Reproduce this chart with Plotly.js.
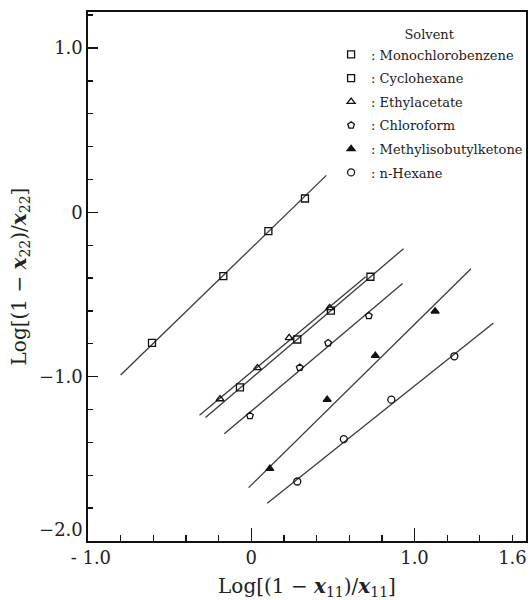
<!DOCTYPE html>
<html>
<head>
<meta charset="utf-8">
<script src="https://cdn.plot.ly/plotly-3.0.1.min.js"></script>
<style>
html,body{margin:0;padding:0;background:#fff;}
#chart{width:531px;height:600px;}
</style>
</head>
<body>
<div id="chart"></div>
<script>
// ---- data ----
const solvents = ["Monochlorobenzene", "Cyclohexane", "Ethylacetate", "Chloroform", "Methylisobutylketone", "n-Hexane"];

const monoX = [-0.608, -0.171, 0.105, 0.329];
const monoY = [-0.795, -0.388, -0.114, 0.084];
const monoLineX = [-0.80, 0.46];
const monoLineY = [-0.99, 0.225];

const cycloX = [-0.069, 0.282, 0.488, 0.730];
const cycloY = [-1.065, -0.774, -0.598, -0.392];
const cycloLineX = [-0.28, 0.933];
const cycloLineY = [-1.248, -0.221];

const ethylX = [-0.191, 0.038, 0.232, 0.480];
const ethylY = [-1.136, -0.947, -0.764, -0.581];
const ethylLineX = [-0.317, 0.701];
const ethylLineY = [-1.235, -0.392];

const chloroX = [-0.008, 0.297, 0.471, 0.720];
const chloroY = [-1.238, -0.945, -0.795, -0.630];
const chloroLineX = [-0.165, 0.927];
const chloroLineY = [-1.348, -0.433];

const mibkX = [0.114, 0.465, 0.760, 1.126];
const mibkY = [-1.560, -1.140, -0.872, -0.602];
const mibkLineX = [-0.016, 1.346];
const mibkLineY = [-1.675, -0.343];

const hexX = [0.282, 0.567, 0.858, 1.244];
const hexY = [-1.638, -1.380, -1.140, -0.876];
const hexLineX = [0.098, 1.482];
const hexLineY = [-1.770, -0.675];

const xTickVals = [-1.0, 0, 1.0, 1.6];
const xTickText = ["\u00a0- 1.0", "0", "1.0", "1.6"];
const xLongTickVals = [0, 1.0];
const yTickVals = [1.0, 0, -1.0, -2.0];
const yTickText = ["1.0", "0", "\u22121.0", "\u22122.0<br>\u00a0"];

// ---- styling ----
const serif = "DejaVu Serif, Liberation Serif, serif";
const lineColor = "#3a3a3a";
const markColor = "#111";
const symbols = ["square-open", "square-open", "triangle-up-open", "pentagon-open", "triangle-up", "circle-open"];

const series = [
  [monoX, monoY, monoLineX, monoLineY],
  [cycloX, cycloY, cycloLineX, cycloLineY],
  [ethylX, ethylY, ethylLineX, ethylLineY],
  [chloroX, chloroY, chloroLineX, chloroLineY],
  [mibkX, mibkY, mibkLineX, mibkLineY],
  [hexX, hexY, hexLineX, hexLineY]
];

const traces = [];
series.forEach((s, i) => {
  traces.push({
    x: s[2], y: s[3], mode: "lines", type: "scatter",
    line: {color: lineColor, width: 1.3},
    showlegend: false, hoverinfo: "skip"
  });
});
series.forEach((s, i) => {
  traces.push({
    x: s[0], y: s[1], mode: "markers", type: "scatter",
    name: ": " + solvents[i], legendgroup: "g" + i,
    marker: {symbol: symbols[i], size: 7, color: markColor, line: {color: markColor, width: 1.3}}
  });
});
// overlay axis carrying the long major ticks
traces.push({x: [], y: [], xaxis: "x2", mode: "markers", showlegend: false, hoverinfo: "skip"});

const axisLine = {showline: true, linecolor: "#111", linewidth: 1.6, mirror: true, showgrid: false, zeroline: false};

const layout = {
  width: 531, height: 600,
  margin: {l: 88, r: 3, t: 12, b: 59},
  paper_bgcolor: "#fff", plot_bgcolor: "#fff",
  showlegend: true,
  legend: {
    x: 0.555, xanchor: "left", y: 0.980, yanchor: "top",
    bgcolor: "rgba(0,0,0,0)", borderwidth: 0,
    traceorder: "grouped", tracegroupgap: 3.7,
    font: {family: serif, size: 13, color: "#222"},
    title: {text: "Solvent", side: "top center", font: {family: serif, size: 13, color: "#222"}}
  },
  xaxis: Object.assign({}, axisLine, {
    range: [-1.0, 1.683],
    tickmode: "array", tickvals: xTickVals, ticktext: xTickText,
    ticklabeloverflow: "allow",
    ticks: "inside", ticklen: 6, tickwidth: 1.3, tickcolor: "#111",
    minor: {dtick: 0.2, tick0: 0, ticks: "inside", ticklen: 6, tickwidth: 1.3, tickcolor: "#111"},
    tickfont: {family: serif, size: 18, color: "#222"},
    title: {text: "Log[(1 \u2212 <b><i>x</i></b><sub>11</sub>)/<b><i>x</i></b><sub>11</sub>]", font: {family: serif, size: 20, color: "#222"}, standoff: 17}
  }),
  xaxis2: {
    overlaying: "x", anchor: "y", side: "bottom", matches: "x",
    range: [-1.0, 1.683],
    tickmode: "array", tickvals: xLongTickVals,
    ticks: "inside", ticklen: 13, tickwidth: 1.4, tickcolor: "#111",
    showticklabels: false, showline: false, showgrid: false, zeroline: false
  },
  yaxis: Object.assign({}, axisLine, {
    range: [-2.0, 1.219],
    tickmode: "array", tickvals: yTickVals, ticktext: yTickText,
    ticklabeloverflow: "allow",
    ticks: "inside", ticklen: 10, tickwidth: 1.3, tickcolor: "#111",
    minor: {dtick: 0.2, tick0: 0, ticks: "inside", ticklen: 5, tickwidth: 1.3, tickcolor: "#111"},
    tickfont: {family: serif, size: 18, color: "#222"},
    title: {text: "Log[(1 \u2212 <b><i>x</i></b><sub>22</sub>)/<b><i>x</i></b><sub>22</sub>]", font: {family: serif, size: 20, color: "#222"}, standoff: 7}
  })
};

Plotly.newPlot("chart", traces, layout, {displayModeBar: false, staticPlot: true});
</script>
</body>
</html>
